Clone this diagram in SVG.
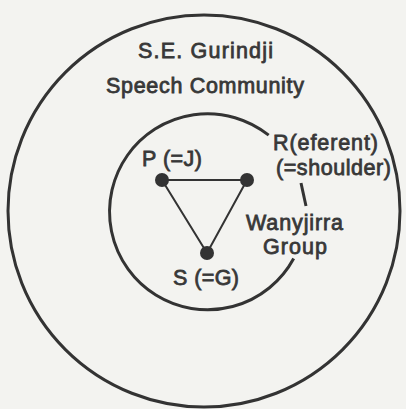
<svg xmlns="http://www.w3.org/2000/svg" width="406" height="409" viewBox="0 0 406 409">
<style>
.ln{fill:none;stroke:#333;stroke-width:3}
.tri{fill:none;stroke:#333;stroke-width:2}
.dot{fill:#333}
text{font-family:"Liberation Sans",Arial,sans-serif;font-size:21.5px;fill:#383838;stroke:#383838;stroke-width:0.8}
</style>
<rect width="406" height="409" fill="#f3f3f0"/>
<g id="speech-community">
<circle class="ln" cx="204" cy="211" r="196"/>
<text x="138" y="58" textLength="135" lengthAdjust="spacing">S.E. Gurindji</text>
<text x="106" y="93" textLength="198" lengthAdjust="spacing">Speech Community</text>
</g>
<g id="wanyjirra-group">
<path class="ln" d="M268.7,135.2 A98,98 0 1 0 293.7,258.5"/>
<path class="ln" d="M301,183 L306,206"/>
<text x="246" y="230" textLength="97" lengthAdjust="spacing">Wanyjirra</text>
<text x="263" y="254" textLength="64" lengthAdjust="spacing">Group</text>
</g>
<g id="connectors">
<polygon class="tri" points="162,180 247,180 207,253"/>
</g>
<g id="P">
<circle class="dot" cx="162" cy="180" r="7"/>
<text x="142" y="166" textLength="60" lengthAdjust="spacing">P (=J)</text>
</g>
<g id="R">
<circle class="dot" cx="247" cy="180" r="7"/>
<text x="273" y="150" textLength="105" lengthAdjust="spacing">R(eferent)</text>
<text x="276" y="175" textLength="115" lengthAdjust="spacing">(=shoulder)</text>
</g>
<g id="S">
<circle class="dot" cx="207" cy="253" r="7"/>
<text x="173" y="285" textLength="66" lengthAdjust="spacing">S (=G)</text>
</g>
</svg>
